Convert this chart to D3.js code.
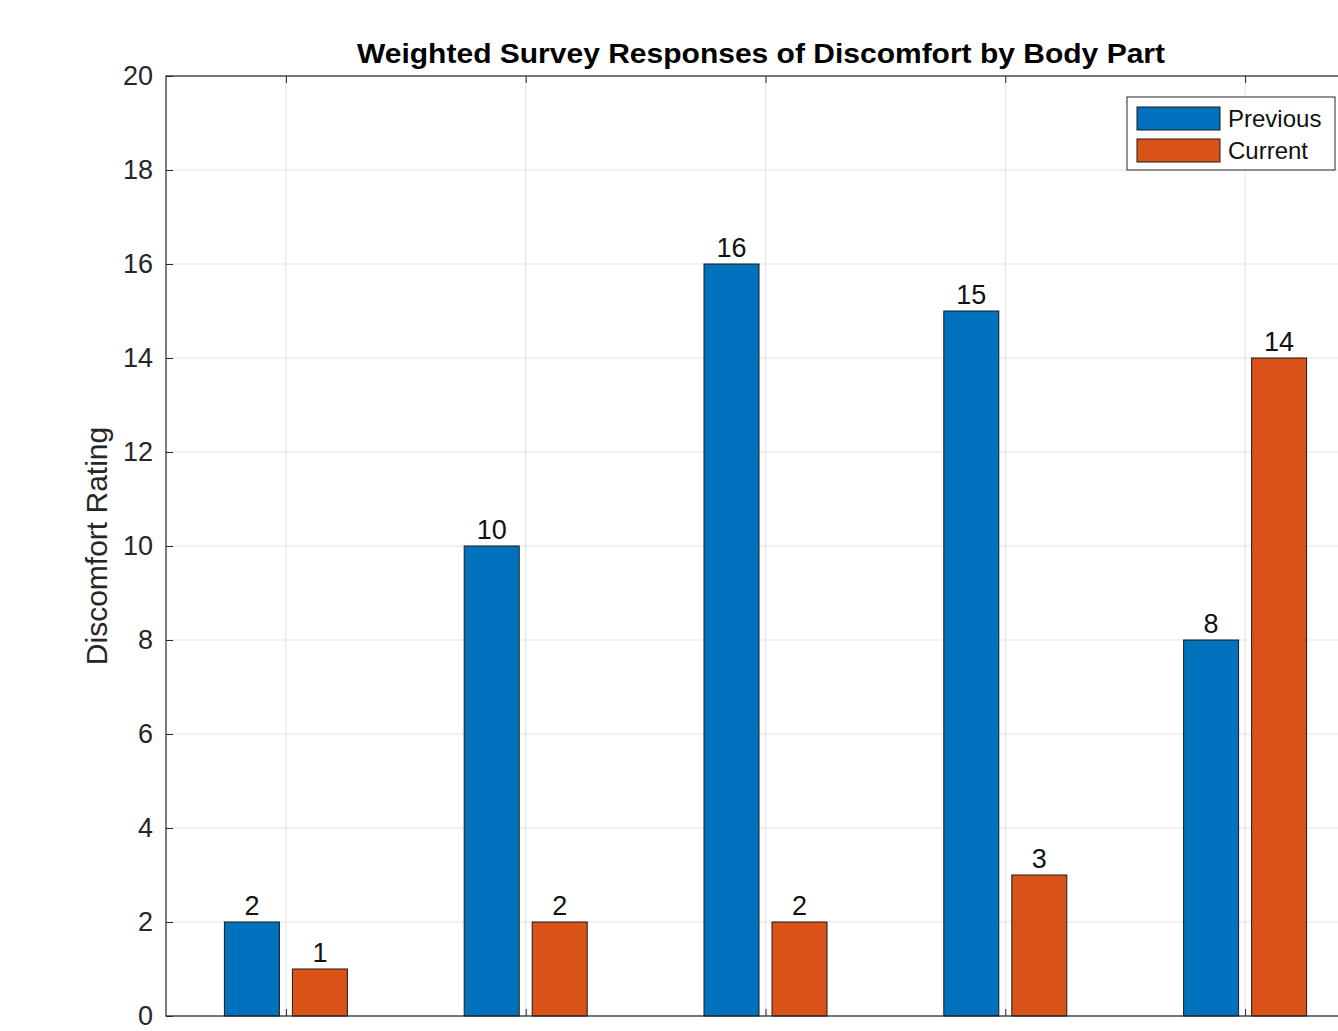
<!DOCTYPE html>
<html><head><meta charset="utf-8">
<script src="https://cdn.jsdelivr.net/npm/d3@7"></script>
<style>body{margin:0;background:#fff;overflow:hidden}svg{display:block}</style>
</head><body>
<script>
const categories = [1, 2, 3, 4, 5];
const previous = [2, 10, 16, 15, 8];
const current = [1, 2, 2, 3, 14];
const seriesNames = ["Previous", "Current"];
const yTicks = [0, 2, 4, 6, 8, 10, 12, 14, 16, 18, 20];
const title = "Weighted Survey Responses of Discomfort by Body Part";
const yLabel = "Discomfort Rating";

(function () {
const W = 1338, H = 1031;
const font = "'Liberation Sans', Arial, Helvetica, sans-serif";
const svg = d3.select("body").append("svg").attr("width", W).attr("height", H);
const pLeft = 166, pTop = 76, pBottom = 1016;
const step = 239.8;
const pRight = pLeft + step * categories.length;

const x = d3.scaleLinear().domain([0.5, categories.length + 0.5]).range([pLeft, pRight]);
const y = d3.scaleLinear().domain([0, 20]).range([pBottom, pTop]);

const colors = ["#0072BD", "#D95319"];
const barW = 55, off = 34;

// grid
const g = svg.append("g");
g.selectAll(".gy").data(yTicks).join("line")
  .attr("x1", pLeft).attr("x2", pRight).attr("y1", d => y(d)).attr("y2", d => y(d))
  .attr("stroke", "#e3e3e3").attr("stroke-width", 1);
g.selectAll(".gx").data(categories).join("line")
  .attr("x1", d => x(d)).attr("x2", d => x(d)).attr("y1", pTop).attr("y2", pBottom)
  .attr("stroke", "#e3e3e3").attr("stroke-width", 1);

// bars
const data = [previous, current];
data.forEach((vals, si) => {
  const dx = si === 0 ? -off : off;
  svg.append("g").selectAll("rect").data(vals).join("rect")
    .attr("x", (d, i) => x(categories[i]) + dx - barW / 2)
    .attr("y", d => y(d))
    .attr("width", barW)
    .attr("height", d => y(0) - y(d))
    .attr("fill", colors[si]).attr("stroke", "#1a1a1a").attr("stroke-width", 1);
  svg.append("g").selectAll("text").data(vals).join("text")
    .attr("x", (d, i) => x(categories[i]) + dx)
    .attr("y", d => y(d) - 7)
    .attr("text-anchor", "middle")
    .attr("font-family", font).attr("font-size", 27).attr("fill", "#111")
    .text(d => d);
});

// axes
const yAxis = d3.axisLeft(y).tickValues(yTicks).tickSize(-7).tickPadding(13);
const ya = svg.append("g").attr("transform", `translate(${pLeft},0)`).call(yAxis);
ya.select(".domain").remove();
ya.selectAll("line").attr("stroke", "#262626");
ya.selectAll("text").attr("font-family", font).attr("font-size", 27).attr("fill", "#262626");

const xb = d3.axisBottom(x).tickValues(categories).tickSize(-7).tickFormat(() => "");
const xa = svg.append("g").attr("transform", `translate(0,${pBottom})`).call(xb);
xa.select(".domain").remove();
xa.selectAll("line").attr("stroke", "#262626");
const xt = d3.axisTop(x).tickValues(categories).tickSize(-7).tickFormat(() => "");
const xta = svg.append("g").attr("transform", `translate(0,${pTop})`).call(xt);
xta.select(".domain").remove();
xta.selectAll("line").attr("stroke", "#262626");

svg.append("rect").attr("x", pLeft).attr("y", pTop).attr("width", pRight - pLeft).attr("height", pBottom - pTop)
  .attr("fill", "none").attr("stroke", "#262626").attr("stroke-width", 1.2);

// title
svg.append("text").attr("x", 357).attr("y", 63)
  .attr("textLength", 808).attr("lengthAdjust", "spacingAndGlyphs")
  .attr("font-family", font).attr("font-weight", "bold").attr("font-size", 27).attr("fill", "#000")
  .text(title);

// y label
svg.append("text").attr("transform", `translate(107,${(pTop + pBottom) / 2}) rotate(-90)`)
  .attr("text-anchor", "middle").attr("font-family", font).attr("font-size", 30).attr("fill", "#262626")
  .text(yLabel);

// legend
const lg = svg.append("g");
lg.append("rect").attr("x", 1127).attr("y", 97).attr("width", 208).attr("height", 73)
  .attr("fill", "#fff").attr("stroke", "#262626").attr("stroke-width", 1);
seriesNames.forEach((n, i) => {
  lg.append("rect").attr("x", 1137).attr("y", 107 + i * 32).attr("width", 83).attr("height", 23)
    .attr("fill", colors[i]).attr("stroke", "#1a1a1a");
  lg.append("text").attr("x", 1228).attr("y", 127 + i * 32)
    .attr("font-family", font).attr("font-size", 24).attr("fill", "#111").text(n);
});
})();
</script>
</body></html>
